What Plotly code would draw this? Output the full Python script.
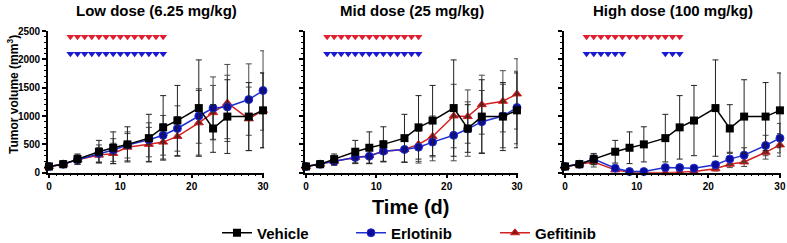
import plotly.graph_objects as go

W, H = 787, 243

days = [0, 2, 4, 7, 9, 11, 14, 16, 18, 21, 23, 25, 28, 30]

vehicle = [110, 150, 240, 370, 440, 500, 610, 800, 920, 1140, 780, 990, 990, 1100]
vehicle_sd = [30, 60, 90, 200, 280, 310, 420, 560, 620, 850, 420, 650, 600, 660]

erl_low = [110, 150, 230, 340, 400, 490, 580, 660, 780, 1000, 1140, 1160, 1290, 1450]
erl_low_sd = [30, 50, 80, 150, 200, 230, 300, 350, 400, 480, 550, 560, 630, 700]
gef_low = [110, 150, 230, 310, 340, 450, 500, 540, 640, 880, 1060, 1230, 950, 1100]
gef_low_sd = [30, 50, 80, 130, 180, 240, 300, 320, 350, 570, 480, 680, 560, 660]

erl_mid = [110, 150, 200, 270, 290, 380, 410, 450, 540, 660, 770, 900, 1000, 1150]
erl_mid_sd = [30, 50, 70, 100, 120, 180, 230, 280, 330, 450, 480, 550, 560, 640]
gef_mid = [110, 150, 200, 270, 300, 380, 410, 500, 640, 1000, 990, 1200, 1260, 1390]
gef_mid_sd = [30, 50, 70, 110, 140, 180, 230, 300, 360, 560, 470, 520, 540, 620]

erl_high = [110, 150, 240, 80, 20, 20, 90, 90, 80, 140, 240, 310, 480, 610]
erl_high_sd = [30, 60, 100, 40, 20, 20, 40, 40, 40, 60, 100, 130, 180, 260]
gef_high = [110, 150, 190, 50, 10, 5, 0, 10, 20, 70, 150, 190, 360, 490]
gef_high_sd = [30, 60, 90, 30, 10, 10, 10, 20, 20, 40, 60, 80, 120, 200]

gef_dose_days = list(range(3, 17))
erl_dose_days_low = list(range(3, 17))
erl_dose_days_mid = list(range(3, 17))
erl_dose_days_high = [3, 4, 5, 6, 7, 8, 14, 15, 16]
gef_marker_level = 2400
erl_marker_level = 2100

titles = ["Low dose (6.25 mg/kg)", "Mid dose (25 mg/kg)", "High dose (100 mg/kg)"]
y_ticks = [0, 500, 1000, 1500, 2000, 2500]
x_ticks = [0, 10, 20, 30]

panels = [
    (erl_low, erl_low_sd, gef_low, gef_low_sd, erl_dose_days_low),
    (erl_mid, erl_mid_sd, gef_mid, gef_mid_sd, erl_dose_days_mid),
    (erl_high, erl_high_sd, gef_high, gef_high_sd, erl_dose_days_high),
]

FONT = "Liberation Sans, Arial, sans-serif"
BLACK = "#000000"
ERL_LINE = "#2030d0"
ERL_MARK = "#0a0a9c"
GEF_LINE = "#d42020"
GEF_MARK = "#8c1414"
DOSE_RED = "#e02030"
DOSE_BLUE = "#1a1ad0"
ERR = "#4a4a4a"

# pixel layout
x_px = [(47.9, 264.1), (305.0, 518.0), (564.0, 781.0)]
y_px = (31.0, 172.7)

fig = go.Figure()

def px_x(p):
    return p / W

def px_y(p):
    return 1 - p / H

for i, (erl, erl_sd, gef, gef_sd, erl_days) in enumerate(panels):
    xa = "x" if i == 0 else f"x{i+1}"
    ya = "y" if i == 0 else f"y{i+1}"
    show = i == 0
    fig.add_trace(go.Scatter(
        x=days, y=gef, mode="lines+markers", name="Gefitinib",
        line=dict(color=GEF_LINE, width=1.5),
        marker=dict(symbol="triangle-up", size=8, color=GEF_MARK,
                    line=dict(color=GEF_LINE, width=1)),
        error_y=dict(type="data", array=gef_sd, visible=True, color=ERR,
                     thickness=1, width=3),
        cliponaxis=False, xaxis=xa, yaxis=ya, showlegend=show,
        legend="legend3"))
    fig.add_trace(go.Scatter(
        x=days, y=erl, mode="lines+markers", name="Erlotinib",
        line=dict(color=ERL_LINE, width=1.5),
        marker=dict(symbol="circle", size=8, color=ERL_MARK,
                    line=dict(color=ERL_LINE, width=1)),
        error_y=dict(type="data", array=erl_sd, visible=True, color=ERR,
                     thickness=1, width=3),
        cliponaxis=False, xaxis=xa, yaxis=ya, showlegend=show,
        legend="legend2"))
    fig.add_trace(go.Scatter(
        x=days, y=vehicle, mode="lines+markers", name="Vehicle",
        line=dict(color=BLACK, width=1.5),
        marker=dict(symbol="square", size=8, color=BLACK),
        error_y=dict(type="data", array=vehicle_sd, visible=True, color="#222222",
                     thickness=1, width=3),
        cliponaxis=False, xaxis=xa, yaxis=ya, showlegend=show,
        legend="legend"))
    fig.add_trace(go.Scatter(
        x=gef_dose_days, y=[gef_marker_level] * len(gef_dose_days), mode="markers",
        marker=dict(symbol="triangle-down", size=7, color=DOSE_RED),
        cliponaxis=False, xaxis=xa, yaxis=ya, showlegend=False, hoverinfo="skip"))
    fig.add_trace(go.Scatter(
        x=erl_days, y=[erl_marker_level] * len(erl_days), mode="markers",
        marker=dict(symbol="triangle-down", size=7, color=DOSE_BLUE),
        cliponaxis=False, xaxis=xa, yaxis=ya, showlegend=False, hoverinfo="skip"))

    x0, x1 = x_px[i]
    xkey = "xaxis" if i == 0 else f"xaxis{i+1}"
    ykey = "yaxis" if i == 0 else f"yaxis{i+1}"
    fig.layout[xkey] = dict(
        domain=[px_x(x0), px_x(x1)], range=[-0.15, 30.15], anchor=ya, automargin=False,
        tickvals=x_ticks, ticks="outside", ticklen=4, tickwidth=1.5, tickcolor=BLACK,
        showline=True, linecolor=BLACK, linewidth=1.5, showgrid=False, zeroline=False,
        tickfont=dict(family=FONT, size=10, color=BLACK, weight="bold"),
        minor=dict(dtick=1, tick0=0, ticks="outside", ticklen=2, tickcolor=BLACK, tickwidth=1),
        fixedrange=True)
    fig.layout[ykey] = dict(
        domain=[px_y(y_px[1]), px_y(y_px[0])], range=[0, 2500], anchor=xa, automargin=False,
        tickvals=y_ticks, ticks="outside", ticklen=4, tickwidth=1.5, tickcolor=BLACK,
        showline=True, linecolor=BLACK, linewidth=1.5, showgrid=False, zeroline=False,
        showticklabels=show,
        tickfont=dict(family=FONT, size=10, color=BLACK, weight="bold"),
        minor=dict(dtick=100, tick0=0, ticks="outside", ticklen=2, tickcolor=BLACK, tickwidth=1),
        fixedrange=True)

annotations = []
for i, t in enumerate(titles):
    x0, x1 = x_px[i]
    annotations.append(dict(
        text=f"<b>{t}</b>", x=px_x((x0 + x1) / 2), y=px_y(10), xref="paper", yref="paper",
        xanchor="center", yanchor="middle", showarrow=False,
        font=dict(family=FONT, size=15, color=BLACK)))
annotations.append(dict(
    text="<b>Tumor volume (mm<sup>3</sup>)</b>", x=px_x(13), y=px_y(95), xref="paper", yref="paper",
    xanchor="center", yanchor="middle", showarrow=False, textangle=-90,
    font=dict(family=FONT, size=12, color=BLACK)))
annotations.append(dict(
    text="<b>Time (d)</b>", x=px_x(410), y=px_y(207), xref="paper", yref="paper",
    xanchor="center", yanchor="middle", showarrow=False,
    font=dict(family=FONT, size=20, color=BLACK)))

leg_font = dict(family=FONT, size=15, color=BLACK, weight="bold")
def leg(xp):
    return dict(x=px_x(xp), xanchor="left", y=px_y(233), yanchor="middle",
                orientation="h", bgcolor="rgba(0,0,0,0)", borderwidth=0,
                font=leg_font, itemclick=False, itemdoubleclick=False)

fig.update_layout(
    width=W, height=H, margin=dict(l=0, r=0, t=0, b=0, pad=0, autoexpand=False),
    paper_bgcolor="white", plot_bgcolor="white",
    annotations=annotations,
    legend=leg(217), legend2=leg(351), legend3=leg(495),
    font=dict(family=FONT, color=BLACK),
)

fig.write_html("out.html", config={"displayModeBar": False},
               post_script="document.body.style.margin='0';document.body.style.overflow='hidden';")
